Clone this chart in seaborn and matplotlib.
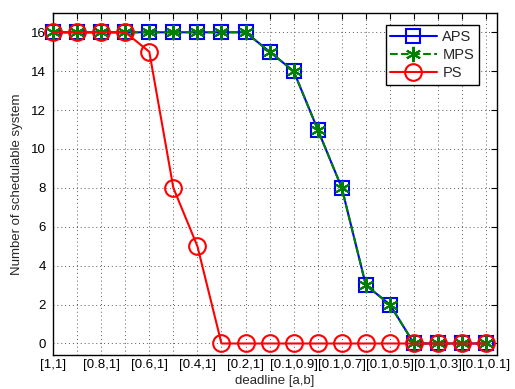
import numpy as np
import pandas as pd
import matplotlib
matplotlib.use("Agg")
import matplotlib.pyplot as plt
import seaborn as sns

# ---- data ----
deadlines = ["[1,1]", "[0.9,1]", "[0.8,1]", "[0.7,1]", "[0.6,1]", "[0.5,1]",
             "[0.4,1]", "[0.3,1]", "[0.2,1]", "[0.1,1]", "[0.1,0.9]",
             "[0.1,0.8]", "[0.1,0.7]", "[0.1,0.6]", "[0.1,0.5]", "[0.1,0.4]",
             "[0.1,0.3]", "[0.1,0.2]", "[0.1,0.1]"]
aps = [16, 16, 16, 16, 16, 16, 16, 16, 16, 15, 14, 11, 8, 3, 2, 0, 0, 0, 0]
mps = [16, 16, 16, 16, 16, 16, 16, 16, 16, 15, 14, 11, 8, 3, 2, 0, 0, 0, 0]
ps = [16, 16, 16, 16, 15, 8, 5, 0, 0, 0, 0, 0, 0, 0, 0, 0, 0, 0, 0]
y_ticks = [0, 2, 4, 6, 8, 10, 12, 14, 16]

x = np.arange(1, len(deadlines) + 1)
df = pd.DataFrame({"x": x, "APS": aps, "MPS": mps, "PS": ps})

sns.set_style("white")
plt.rcParams["font.family"] = ["Liberation Sans", "DejaVu Sans"]
plt.rcParams["font.size"] = 9.5

fig = plt.figure(figsize=(5.15, 3.89), dpi=100)
ax = fig.add_axes([0.103, 0.087, 0.862, 0.880])

# matlab-style asterisk: 6 line arms
asterisk = (6, 2, 0)

sns.lineplot(data=df, x="x", y="APS", ax=ax, color="blue", lw=1.5,
             marker="s", markersize=10, markerfacecolor="none",
             markeredgecolor="blue", markeredgewidth=1.5, label="APS",
             clip_on=False, zorder=3)
sns.lineplot(data=df, x="x", y="MPS", ax=ax, color="green", lw=1.5,
             linestyle="--", marker=asterisk, markersize=11,
             markeredgecolor="green", markeredgewidth=1.5, label="MPS",
             clip_on=False, zorder=4)
sns.lineplot(data=df, x="x", y="PS", ax=ax, color="red", lw=1.5,
             marker="o", markersize=12, markerfacecolor="none",
             markeredgecolor="red", markeredgewidth=1.5, label="PS",
             clip_on=False, zorder=5)

ax.set_xlim(1, 19.45)
ax.set_ylim(-0.6, 17)
ax.set_xticks(x)
ax.set_xticklabels([lab if i % 2 == 0 else "" for i, lab in enumerate(deadlines)])
ax.set_yticks(y_ticks)
ax.set_xlabel("deadline [a,b]", labelpad=3, fontsize=9.5)
ax.set_ylabel("Number of schedulable system", labelpad=6, fontsize=9.5)
ax.grid(True, linestyle=(0, (1, 3)), color="0.35", lw=0.7)
ax.tick_params(axis="x", pad=3)
ax.tick_params(axis="y", pad=5)
ax.tick_params(direction="in", length=4, top=True, right=True,
               colors="black", labelsize=9.5)
for s in ax.spines.values():
    s.set_color("black")
    s.set_linewidth(1.0)

leg = ax.legend(loc="upper right", bbox_to_anchor=(0.975, 0.985),
                frameon=True, fancybox=False, edgecolor="black",
                framealpha=1, borderpad=0.3, labelspacing=0.3,
                handlelength=3.2, handletextpad=0.4, fontsize=10.5)
leg.get_frame().set_linewidth(1.0)
leg.set_zorder(10)

fig.savefig("out.png", dpi=100)
